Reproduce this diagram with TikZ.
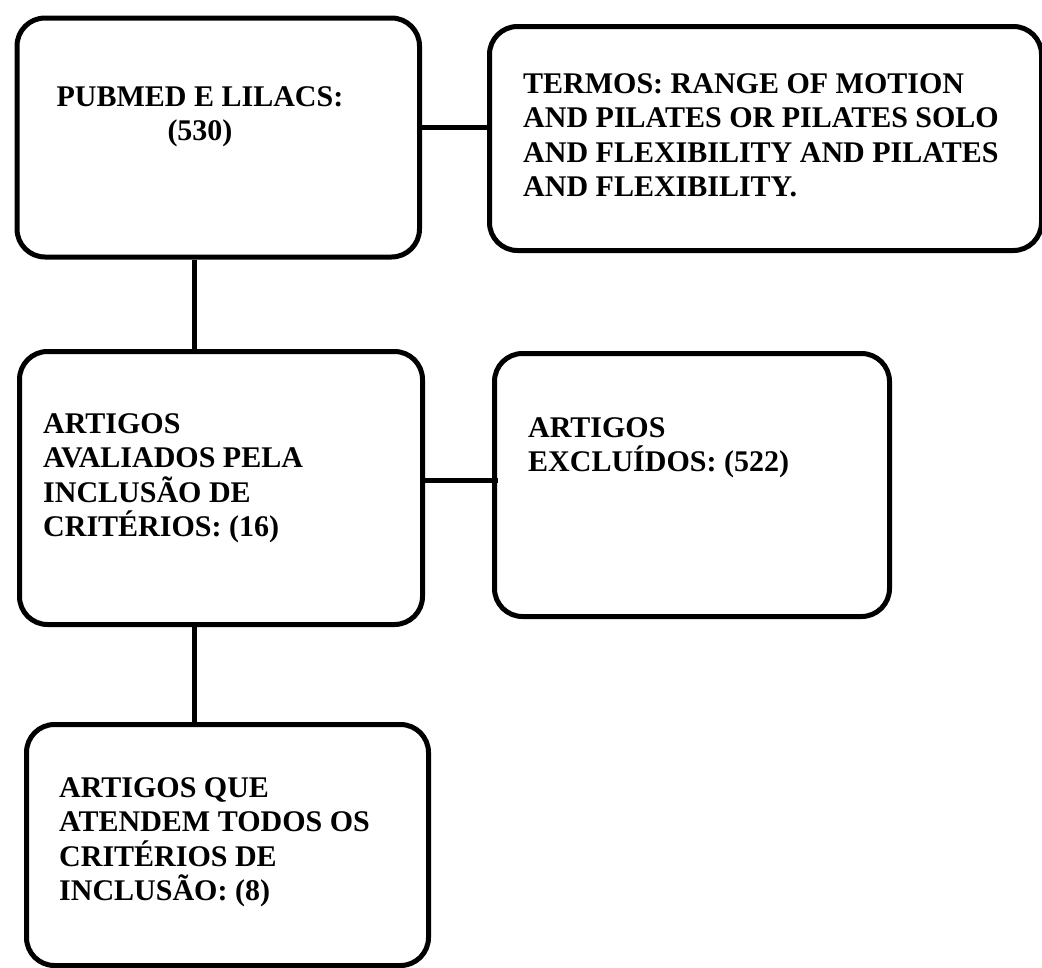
\documentclass[tikz,border=0pt]{standalone}
\usepackage{fontspec}
\setmainfont{Liberation Serif}
\begin{document}
\begin{tikzpicture}[x=1pt,y=-1pt,
  box/.style={draw=black, line width=5pt, rounded corners=28pt, rectangle,
    inner sep=0pt, anchor=north west},
  txt/.style={font=\fontsize{30}{34.5}\selectfont\bfseries, inner sep=0pt, align=left, anchor=north west},
  conn/.style={draw=black, line width=5pt}]
\useasboundingbox[fill=white] (0,0) rectangle (1042,967);
% boxes
\node[box, minimum width=402.5pt, minimum height=239pt] (b1) at (14.5,15.5) {};
\node[box, minimum width=552pt, minimum height=224pt] (b2) at (487,24) {};
\node[box, minimum width=403pt, minimum height=273pt] (b3) at (17,349) {};
\node[box, minimum width=395pt, minimum height=263pt] (b4) at (492,351) {};
\node[box, minimum width=402pt, minimum height=241pt] (b5) at (24,722) {};
% texts
\node[txt, align=center, anchor=north] (t1) at (200,86) {PUBMED E LILACS:\\(530)};
\node[txt] (t2) at (523,73) {TERMOS: RANGE OF MOTION\\AND PILATES OR PILATES SOLO\\AND FLEXIBILITY AND PILATES\\AND FLEXIBILITY.};
\node[txt] (t3) at (43,413) {ARTIGOS\\AVALIADOS PELA\\INCLUSÃO DE\\CRITÉRIOS: (16)};
\node[txt] (t4) at (528,417) {ARTIGOS\\EXCLUÍDOS: (522)};
\node[txt] (t5) at (59,777) {ARTIGOS QUE\\ATENDEM TODOS OS\\CRITÉRIOS DE\\INCLUSÃO: (8)};
% connectors
\draw[conn] ([yshift=10pt,xshift=-5pt]b1.east) -- ([yshift=10pt]b1.east -| b2.west);
\draw[conn] ([xshift=-23.75pt]b1.south) -- ([xshift=-23.75pt,yshift=-5pt]b1.south |- b3.north);
\draw[conn] ([yshift=7.5pt]b3.east) -- ([yshift=7.5pt,xshift=6pt]b3.east -| b4.west);
\draw[conn] ([xshift=-26.5pt]b3.south) -- ([xshift=-26.5pt]b3.south |- b5.north);
\end{tikzpicture}
\end{document}
